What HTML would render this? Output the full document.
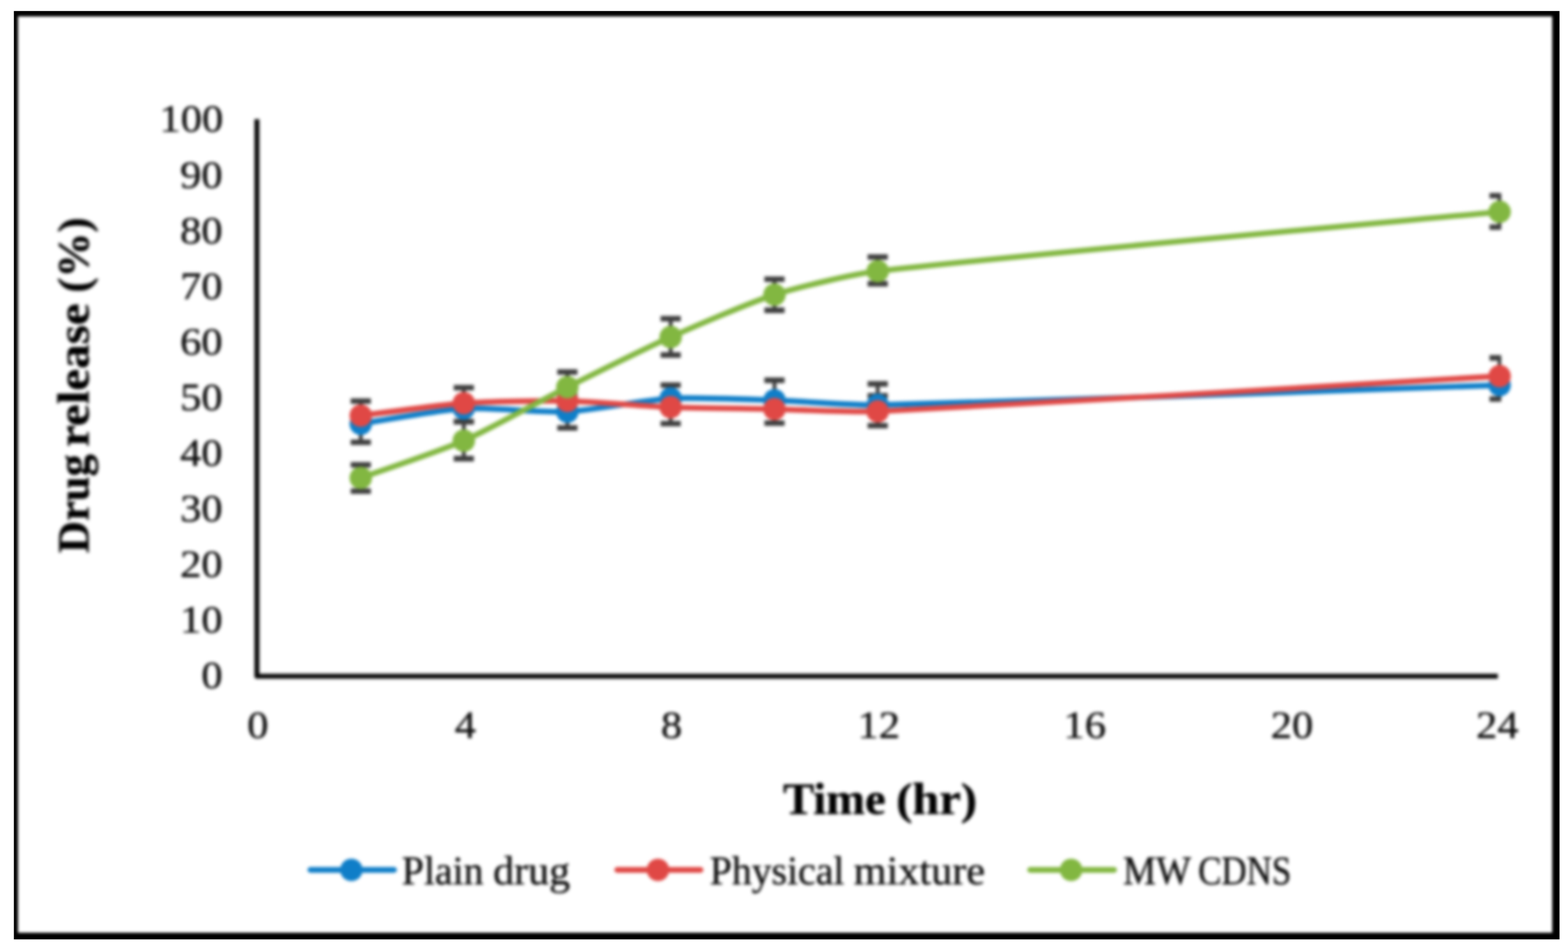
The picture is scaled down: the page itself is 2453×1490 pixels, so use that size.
<!DOCTYPE html>
<html lang="en">
<head>
<meta charset="utf-8">
<title>Drug release (%) vs Time (hr)</title>
<style>
html,body{margin:0;padding:0;background:#fff;}
body{width:2453px;height:1490px;overflow:hidden;}
svg{display:block;}
text{font-family:"Liberation Serif","DejaVu Serif",serif;stroke-linejoin:round;}
.tick{font-size:61.8px;fill:#0c0c0c;stroke:#0c0c0c;stroke-width:0.6;}
.leg{font-size:63px;fill:#0c0c0c;stroke:#0c0c0c;stroke-width:0.6;}
.ttl{font-size:69px;font-weight:bold;fill:#000;stroke:#000;stroke-width:0.6;}
</style>
</head>
<body>
<svg width="2453" height="1490" viewBox="0 0 2453 1490">
<defs>
<filter id="soft" x="-2%" y="-2%" width="104%" height="104%" color-interpolation-filters="sRGB"><feGaussianBlur stdDeviation="2.4"/></filter>
<filter id="soft2" filterUnits="userSpaceOnUse" x="-40" y="-40" width="2540" height="1580" color-interpolation-filters="sRGB"><feGaussianBlur stdDeviation="2"/></filter>
<clipPath id="frame"><rect x="21.7" y="17.3" width="2418.0" height="1452.9"/></clipPath>
<clipPath id="plot"><rect x="380" y="150" width="1968.5" height="930"/></clipPath>
</defs>
<rect x="0" y="0" width="2453" height="1490" fill="#fff"/>
<g clip-path="url(#frame)"><path filter="url(#soft2)" d="M-20 -20H2480V1520H-20Z M28.2 25.8V1459.8H2428.3V25.8Z" fill="#000" fill-rule="evenodd"/></g>
<g filter="url(#soft)">
<path d="M401.9 186.4V1058.3H2343.3" fill="none" stroke="#080808" stroke-width="7.8" stroke-linecap="butt" stroke-linejoin="round"/>
<g clip-path="url(#plot)">
<path d="M564.4 627.7V692.3" fill="none" stroke="#3e3e3e" stroke-width="6"/>
<path d="M548.6 627.7H580.2 M548.6 692.3H580.2" fill="none" stroke="#3e3e3e" stroke-width="8.6"/>
<path d="M725.6 606.7V660.0" fill="none" stroke="#3e3e3e" stroke-width="6"/>
<path d="M709.8 606.7H741.4 M709.8 660.0H741.4" fill="none" stroke="#3e3e3e" stroke-width="8.6"/>
<path d="M887.6 619.0V669.8" fill="none" stroke="#3e3e3e" stroke-width="6"/>
<path d="M871.8 619.0H903.4 M871.8 669.8H903.4" fill="none" stroke="#3e3e3e" stroke-width="8.6"/>
<path d="M1049.2 602.7V663.0" fill="none" stroke="#3e3e3e" stroke-width="6"/>
<path d="M1033.4 602.7H1065.0 M1033.4 663.0H1065.0" fill="none" stroke="#3e3e3e" stroke-width="8.6"/>
<path d="M1211.6 595.1V662.3" fill="none" stroke="#3e3e3e" stroke-width="6"/>
<path d="M1195.8 595.1H1227.4 M1195.8 662.3H1227.4" fill="none" stroke="#3e3e3e" stroke-width="8.6"/>
<path d="M1373.1 600.9V666.2" fill="none" stroke="#3e3e3e" stroke-width="6"/>
<path d="M1357.3 600.9H1388.9 M1357.3 666.2H1388.9" fill="none" stroke="#3e3e3e" stroke-width="8.6"/>
<path d="M2346.0 560.1V624.5" fill="none" stroke="#3e3e3e" stroke-width="6"/>
<path d="M2330.2 560.1H2361.8 M2330.2 624.5H2361.8" fill="none" stroke="#3e3e3e" stroke-width="8.6"/>
<path d="M564.4 727.5V768.7" fill="none" stroke="#3e3e3e" stroke-width="6"/>
<path d="M548.6 727.5H580.2 M548.6 768.7H580.2" fill="none" stroke="#3e3e3e" stroke-width="8.6"/>
<path d="M725.6 660.0V717.9" fill="none" stroke="#3e3e3e" stroke-width="6"/>
<path d="M709.8 660.0H741.4 M709.8 717.9H741.4" fill="none" stroke="#3e3e3e" stroke-width="8.6"/>
<path d="M887.6 582.2V630.0" fill="none" stroke="#3e3e3e" stroke-width="6"/>
<path d="M871.8 582.2H903.4 M871.8 630.0H903.4" fill="none" stroke="#3e3e3e" stroke-width="8.6"/>
<path d="M1049.2 498.8V555.6" fill="none" stroke="#3e3e3e" stroke-width="6"/>
<path d="M1033.4 498.8H1065.0 M1033.4 555.6H1065.0" fill="none" stroke="#3e3e3e" stroke-width="8.6"/>
<path d="M1211.6 437.0V485.6" fill="none" stroke="#3e3e3e" stroke-width="6"/>
<path d="M1195.8 437.0H1227.4 M1195.8 485.6H1227.4" fill="none" stroke="#3e3e3e" stroke-width="8.6"/>
<path d="M1373.1 402.2V444.1" fill="none" stroke="#3e3e3e" stroke-width="6"/>
<path d="M1357.3 402.2H1388.9 M1357.3 444.1H1388.9" fill="none" stroke="#3e3e3e" stroke-width="8.6"/>
<path d="M2346.0 306.3V355.5" fill="none" stroke="#3e3e3e" stroke-width="6"/>
<path d="M2330.2 306.3H2361.8 M2330.2 355.5H2361.8" fill="none" stroke="#3e3e3e" stroke-width="8.6"/>
<path d="M1357.3 619.4H1388.9" fill="none" stroke="#3e3e3e" stroke-width="8.6"/>
</g>
<path d="M564.4 663.3 C582.9 660.5 688.3 641.5 725.6 639.3 C762.7 637.1 850.5 646.1 887.6 644.3 C924.9 642.5 1011.9 625.6 1049.2 623.5 C1086.4 621.5 1174.3 625.3 1211.6 626.5 C1248.8 627.7 1335.9 634.7 1373.1 633.9 C1596.8 629.2 2234.1 606.4 2346.0 602.8" fill="none" stroke="#0f7ec8" stroke-width="8.8" stroke-linecap="round" stroke-linejoin="round"/>
<circle cx="564.4" cy="663.3" r="17.6" fill="#0f7ec8"/>
<circle cx="725.6" cy="639.3" r="17.6" fill="#0f7ec8"/>
<circle cx="887.6" cy="644.3" r="17.6" fill="#0f7ec8"/>
<circle cx="1049.2" cy="623.5" r="17.6" fill="#0f7ec8"/>
<circle cx="1211.6" cy="626.5" r="17.6" fill="#0f7ec8"/>
<circle cx="1373.1" cy="633.9" r="17.6" fill="#0f7ec8"/>
<circle cx="2346.0" cy="602.8" r="17.6" fill="#0f7ec8"/>
<path d="M564.4 650.5 C582.9 648.3 688.4 633.6 725.6 631.0 C762.7 628.4 850.4 626.9 887.6 627.6 C924.8 628.3 1012.0 635.8 1049.2 637.3 C1086.5 638.8 1174.2 639.5 1211.6 640.3 C1248.7 641.1 1336.0 645.6 1373.1 643.9 C1596.9 633.7 2234.1 595.0 2346.0 588.7" fill="none" stroke="#e04845" stroke-width="8.8" stroke-linecap="round" stroke-linejoin="round"/>
<circle cx="564.4" cy="650.5" r="17.6" fill="#e04845"/>
<circle cx="725.6" cy="631.0" r="17.6" fill="#e04845"/>
<circle cx="887.6" cy="627.6" r="17.6" fill="#e04845"/>
<circle cx="1049.2" cy="637.3" r="17.6" fill="#e04845"/>
<circle cx="1211.6" cy="640.3" r="17.6" fill="#e04845"/>
<circle cx="1373.1" cy="643.9" r="17.6" fill="#e04845"/>
<circle cx="2346.0" cy="588.7" r="17.6" fill="#e04845"/>
<path d="M564.4 748.0 C582.9 741.3 689.6 705.5 725.6 689.7 C763.9 672.9 850.1 624.8 887.6 606.0 C924.5 587.5 1011.5 544.4 1049.2 527.6 C1086.0 511.1 1173.3 473.4 1211.6 461.2 C1247.8 449.7 1335.3 428.7 1373.1 424.4 C1596.2 398.9 2234.1 342.3 2346.0 331.6" fill="none" stroke="#82b741" stroke-width="8.8" stroke-linecap="round" stroke-linejoin="round"/>
<circle cx="564.4" cy="748.0" r="17.6" fill="#82b741"/>
<circle cx="725.6" cy="689.7" r="17.6" fill="#82b741"/>
<circle cx="887.6" cy="606.0" r="17.6" fill="#82b741"/>
<circle cx="1049.2" cy="527.6" r="17.6" fill="#82b741"/>
<circle cx="1211.6" cy="461.2" r="17.6" fill="#82b741"/>
<circle cx="1373.1" cy="424.4" r="17.6" fill="#82b741"/>
<circle cx="2346.0" cy="331.6" r="17.6" fill="#82b741"/>
<path d="M485.5 1361.5H616.5" fill="none" stroke="#0f7ec8" stroke-width="8.8" stroke-linecap="round"/>
<circle cx="549.7" cy="1361.5" r="17.6" fill="#0f7ec8"/>
<path d="M965.5 1361.5H1096.0" fill="none" stroke="#e04845" stroke-width="8.8" stroke-linecap="round"/>
<circle cx="1029.3" cy="1361.5" r="17.6" fill="#e04845"/>
<path d="M1611.5 1361.5H1743.0" fill="none" stroke="#82b741" stroke-width="8.8" stroke-linecap="round"/>
<circle cx="1675.7" cy="1361.5" r="17.6" fill="#82b741"/>
<text class="tick" y="1076.9"><tspan x="315.1" textLength="33.2" lengthAdjust="spacingAndGlyphs">0</tspan></text>
<text class="tick" y="989.9"><tspan x="281.8" textLength="66.4" lengthAdjust="spacingAndGlyphs">10</tspan></text>
<text class="tick" y="902.8"><tspan x="281.8" textLength="66.4" lengthAdjust="spacingAndGlyphs">20</tspan></text>
<text class="tick" y="815.8"><tspan x="281.8" textLength="66.4" lengthAdjust="spacingAndGlyphs">30</tspan></text>
<text class="tick" y="728.7"><tspan x="281.8" textLength="66.4" lengthAdjust="spacingAndGlyphs">40</tspan></text>
<text class="tick" y="641.7"><tspan x="281.8" textLength="66.4" lengthAdjust="spacingAndGlyphs">50</tspan></text>
<text class="tick" y="554.6"><tspan x="281.8" textLength="66.4" lengthAdjust="spacingAndGlyphs">60</tspan></text>
<text class="tick" y="467.6"><tspan x="281.8" textLength="66.4" lengthAdjust="spacingAndGlyphs">70</tspan></text>
<text class="tick" y="380.5"><tspan x="281.8" textLength="66.4" lengthAdjust="spacingAndGlyphs">80</tspan></text>
<text class="tick" y="293.5"><tspan x="281.8" textLength="66.4" lengthAdjust="spacingAndGlyphs">90</tspan></text>
<text class="tick" y="206.4"><tspan x="249.6" textLength="99.7" lengthAdjust="spacingAndGlyphs">100</tspan></text>
<text class="tick" y="1155.4"><tspan x="386.7" textLength="33.2" lengthAdjust="spacingAndGlyphs">0</tspan></text>
<text class="tick" y="1155.4"><tspan x="711.6" textLength="33.2" lengthAdjust="spacingAndGlyphs">4</tspan></text>
<text class="tick" y="1155.4"><tspan x="1034.0" textLength="33.2" lengthAdjust="spacingAndGlyphs">8</tspan></text>
<text class="tick" y="1155.4"><tspan x="1341.5" textLength="66.4" lengthAdjust="spacingAndGlyphs">12</tspan></text>
<text class="tick" y="1155.4"><tspan x="1663.7" textLength="66.4" lengthAdjust="spacingAndGlyphs">16</tspan></text>
<text class="tick" y="1155.4"><tspan x="1988.1" textLength="66.4" lengthAdjust="spacingAndGlyphs">20</tspan></text>
<text class="tick" y="1155.4"><tspan x="2309.3" textLength="66.4" lengthAdjust="spacingAndGlyphs">24</tspan></text>
<text class="leg" y="1383.9"><tspan x="628.6" textLength="127.7" lengthAdjust="spacingAndGlyphs">Plain</tspan> <tspan x="771.5" textLength="120.4" lengthAdjust="spacingAndGlyphs">drug</tspan></text>
<text class="leg" y="1383.9"><tspan x="1110.3" textLength="210.8" lengthAdjust="spacingAndGlyphs">Physical</tspan> <tspan x="1335.5" textLength="205.6" lengthAdjust="spacingAndGlyphs">mixture</tspan></text>
<text class="leg" y="1383.9"><tspan x="1757.0" textLength="105.2" lengthAdjust="spacingAndGlyphs">MW</tspan> <tspan x="1874.4" textLength="145.6" lengthAdjust="spacingAndGlyphs">CDNS</tspan></text>
<text class="ttl" y="1274.3"><tspan x="1224.9" textLength="160.7" lengthAdjust="spacingAndGlyphs">Time</tspan> <tspan x="1402.0" textLength="126.7" lengthAdjust="spacingAndGlyphs">(hr)</tspan></text>
<g transform="translate(138.6 865) rotate(-90)">
<text class="ttl" y="0.0"><tspan x="-0.7" textLength="154.9" lengthAdjust="spacingAndGlyphs">Drug</tspan> <tspan x="165.4" textLength="224.8" lengthAdjust="spacingAndGlyphs">release</tspan> <tspan x="407.1" textLength="117.7" lengthAdjust="spacingAndGlyphs">(%)</tspan></text>
</g>
</g>
</svg>
</body>
</html>
